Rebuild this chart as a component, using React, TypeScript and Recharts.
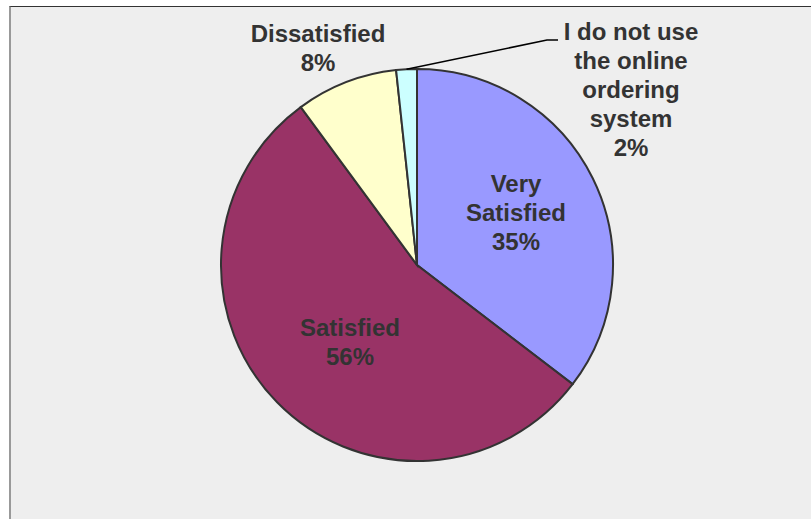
import { PieChart, Pie, Cell } from "recharts";

// survey shares
const CATEGORIES = [
  "Very Satisfied",
  "Satisfied",
  "Dissatisfied",
  "I do not use the online ordering system",
];
const SHARES = [35.4, 54.5, 8.4, 1.7];
const PERCENT_LABELS = ["35%", "56%", "8%", "2%"];
const LABEL_LINES = [
  ["Very", "Satisfied"],
  ["Satisfied"],
  ["Dissatisfied"],
  ["I do not use", "the online", "ordering", "system"],
];

const COLORS = ["#9999FF", "#993366", "#FFFFCC", "#CCFFFF"];

// label block centres, relative to the pie centre
const LABEL_SPOTS = [
  { dx: 99, dy: -52.5 },
  { dx: -67, dy: 76.5 },
  { dx: -99, dy: -217.5 },
  { dx: 214, dy: -175.5 },
];

const LINE_HEIGHT = 29;
const RAD = Math.PI / 180;

const chartData = CATEGORIES.map((name, i) => ({ name, value: SHARES[i] }));

function renderLabel(props: any) {
  const { cx, cy, midAngle, outerRadius, index } = props;
  const lines = [...LABEL_LINES[index], PERCENT_LABELS[index]];
  const spot = LABEL_SPOTS[index];
  const x = cx + spot.dx;
  const top = cy + spot.dy - ((lines.length - 1) * LINE_HEIGHT) / 2 + 8.5;

  let leader = null;
  if (index === 3) {
    const sx = cx + Math.cos(-midAngle * RAD) * outerRadius;
    const sy = cy + Math.sin(-midAngle * RAD) * outerRadius;
    leader = (
      <polyline
        points={`${sx},${sy} ${cx + 130},${cy - 225} ${cx + 141},${cy - 225}`}
        fill="none"
        stroke="#000"
        strokeWidth={1.5}
      />
    );
  }

  return (
    <g key={`label-${index}`}>
      {leader}
      <text
        x={x}
        y={top}
        textAnchor="middle"
        fill="#333333"
        fontFamily="'Liberation Sans', Arial, sans-serif"
        fontWeight="bold"
        fontSize={24}
      >
        {lines.map((line, i) => (
          <tspan key={i} x={x} y={top + i * LINE_HEIGHT}>
            {line}
          </tspan>
        ))}
      </text>
    </g>
  );
}

export default function App() {
  return (
    <div
      style={{
        position: "absolute",
        left: 0,
        top: 0,
        width: 811,
        height: 519,
        background: "#ffffff",
        overflow: "hidden",
      }}
    >
      <div
        style={{
          position: "absolute",
          left: 9,
          top: 6,
          width: 820,
          height: 530,
          background: "#eeeeee",
          borderTop: "1px solid #333333",
          borderLeft: "2px solid #999999",
        }}
      />
      <div style={{ position: "absolute", left: 0, top: 0 }}>
        <PieChart
          width={811}
          height={519}
          margin={{ top: 0, right: 0, bottom: 0, left: 0 }}
        >
          <Pie
            data={chartData}
            dataKey="value"
            nameKey="name"
            cx={417}
            cy={265}
            outerRadius={196}
            startAngle={90}
            endAngle={-270}
            stroke="#333333"
            strokeWidth={2}
            label={renderLabel}
            labelLine={false}
            isAnimationActive={false}
          >
            {chartData.map((_, i) => (
              <Cell key={i} fill={COLORS[i]} />
            ))}
          </Pie>
        </PieChart>
      </div>
    </div>
  );
}
